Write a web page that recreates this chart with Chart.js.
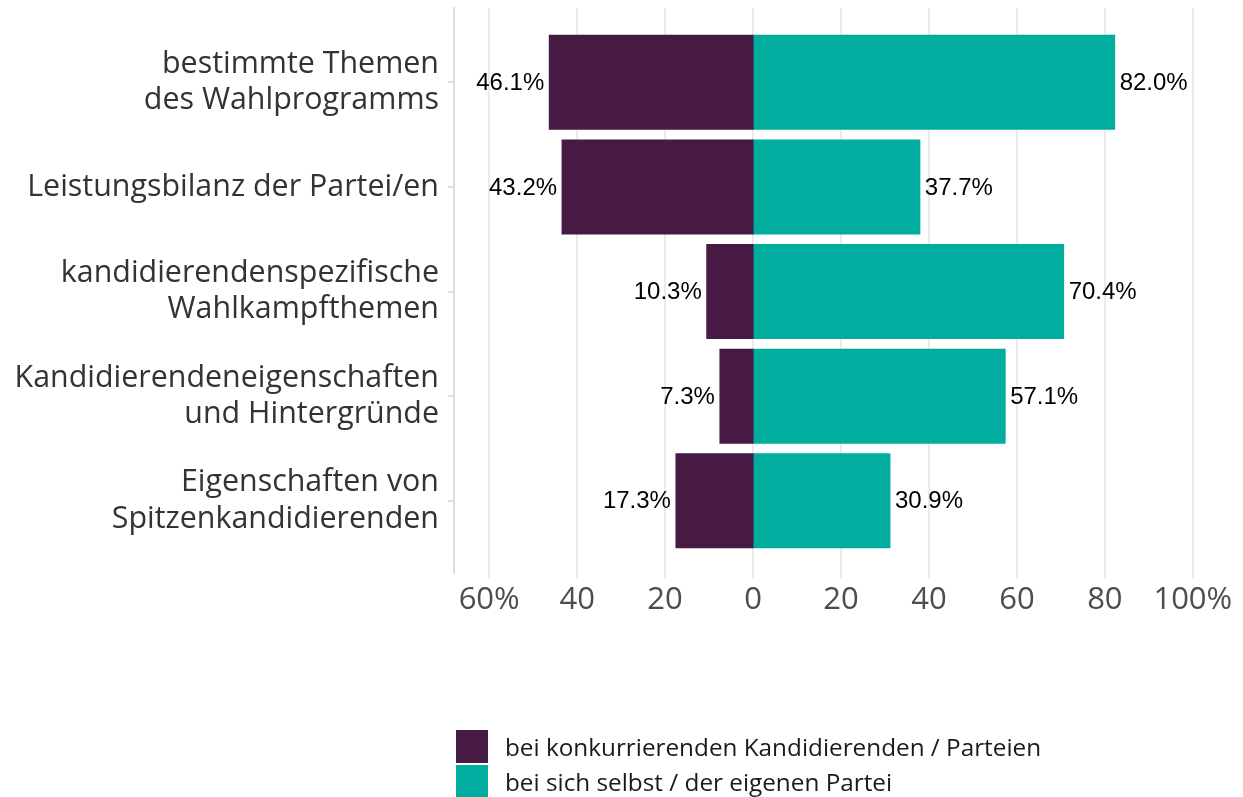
<!DOCTYPE html>
<html>
<head>
<meta charset="utf-8">
<script src="https://cdn.jsdelivr.net/npm/chart.js@4"></script>
<style>
  html, body { margin: 0; padding: 0; background: #fff; }
  #wrap { position: relative; width: 1243px; height: 797px; }
  #legend { position: absolute; left: 456px; top: 729px; font-family: "Open Sans", sans-serif; font-size: 24.3px; color: #1a1a1a; }
  #legend div { display: flex; align-items: center; height: 35px; }
  #legend span.box { display: inline-block; width: 32px; height: 33px; margin-right: 17px; }
</style>
</head>
<body>
<div id="wrap">
  <canvas id="chart" width="1243" height="797"></canvas>
  <div id="legend"></div>
</div>
<script>
const categories = [
    ['bestimmte Themen', 'des Wahlprogramms'],
    ['Leistungsbilanz der Partei/en'],
    ['kandidierendenspezifische', 'Wahlkampfthemen'],
    ['Kandidierendeneigenschaften', 'und Hintergründe'],
    ['Eigenschaften von', 'Spitzenkandidierenden']
];
const competitors = [46.1, 43.2, 10.3, 7.3, 17.3];
const ownParty = [82.0, 37.7, 70.4, 57.1, 30.9];
const xTicks = [-60, -40, -20, 0, 20, 40, 60, 80, 100];
const seriesNames = ['bei konkurrierenden Kandidierenden / Parteien', 'bei sich selbst / der eigenen Partei'];
const seriesColors = ['#461a43', '#00ad9f'];

// value labels next to each bar end
const valueLabels = {
    id: 'valueLabels',
    afterDatasetsDraw(chart) {
        const ctx = chart.ctx;
        ctx.save();
        ctx.font = '24px "Liberation Sans", Arial, sans-serif';
        ctx.fillStyle = '#000';
        ctx.textBaseline = 'middle';
        chart.data.datasets.forEach((ds, i) => {
            chart.getDatasetMeta(i).data.forEach((bar, j) => {
                const v = ds.data[j].x;
                const txt = Math.abs(v).toFixed(1) + '%';
                ctx.textAlign = v < 0 ? 'right' : 'left';
                ctx.fillText(txt, bar.x + (v < 0 ? -6 : 6), bar.y + 1);
            });
        });
        ctx.restore();
    }
};

const ctx_chart = document.getElementById('chart').getContext('2d');
const chart = new Chart(ctx_chart, {
    type: 'bar',
    data: {
        datasets: [{
            label: seriesNames[0],
            data: competitors.map((v, i) => ({ x: -v, y: i })),
            backgroundColor: seriesColors[0],
            barPercentage: 0.88,
            categoryPercentage: 1,
            borderWidth: 0,
            inflateAmount: 1.5, // closes the gap Chart.js leaves at the zero grid line
            grouped: false
        }, {
            label: seriesNames[1],
            data: ownParty.map((v, i) => ({ x: v, y: i })),
            backgroundColor: seriesColors[1],
            barPercentage: 0.88,
            categoryPercentage: 1,
            borderWidth: 0,
            inflateAmount: 1.5,
            grouped: false
        }]
    },
    options: {
        indexAxis: 'y',
        responsive: false,
        animation: false,
        layout: { padding: { top: 8, right: 15, bottom: 164, left: 0 } },
        scales: {
            x: {
                type: 'linear',
                min: -68,
                max: 108,
                afterBuildTicks: (scale) => { scale.ticks = xTicks.map(v => ({ value: v })); },
                afterFit: (scale) => { scale.height = 60; scale.paddingLeft = 0; scale.paddingRight = 0; },
                border: { display: false },
                grid: { color: '#ebebeb', lineWidth: 2, tickLength: 6 },
                ticks: {
                    padding: 3,
                    color: '#4d4d4d',
                    font: { family: 'Open Sans', size: 31 },
                    callback: (v) => (v === -60 ? '60%' : v === 100 ? '100%' : String(Math.abs(v)))
                }
            },
            y: {
                type: 'linear',
                reverse: true,
                offset: false,
                min: -0.71,
                max: 4.69,
                afterBuildTicks: (scale) => { scale.ticks = categories.map((c, i) => ({ value: i })); },
                afterFit: (scale) => { scale.width = 454; scale.paddingTop = 0; scale.paddingBottom = 0; },
                border: { display: true, color: '#dedede', width: 2 },
                grid: { offset: false, drawOnChartArea: false, drawTicks: true, tickLength: 6, color: '#dedede', lineWidth: 2 },
                ticks: {
                    padding: 9,
                    color: '#333333',
                    font: { family: 'Open Sans', size: 30.4, lineHeight: 1.2 },
                    callback: (v) => categories[v]
                }
            }
        },
        plugins: {
            legend: { display: false },
            tooltip: { enabled: false }
        }
    },
    plugins: [valueLabels]
});

// legend built from the datasets
const legendEl = document.getElementById('legend');
chart.data.datasets.forEach(ds => {
    const row = document.createElement('div');
    row.innerHTML = '<span class="box" style="background:' + ds.backgroundColor + '"></span>' + ds.label;
    legendEl.appendChild(row);
});
</script>
</body>
</html>
